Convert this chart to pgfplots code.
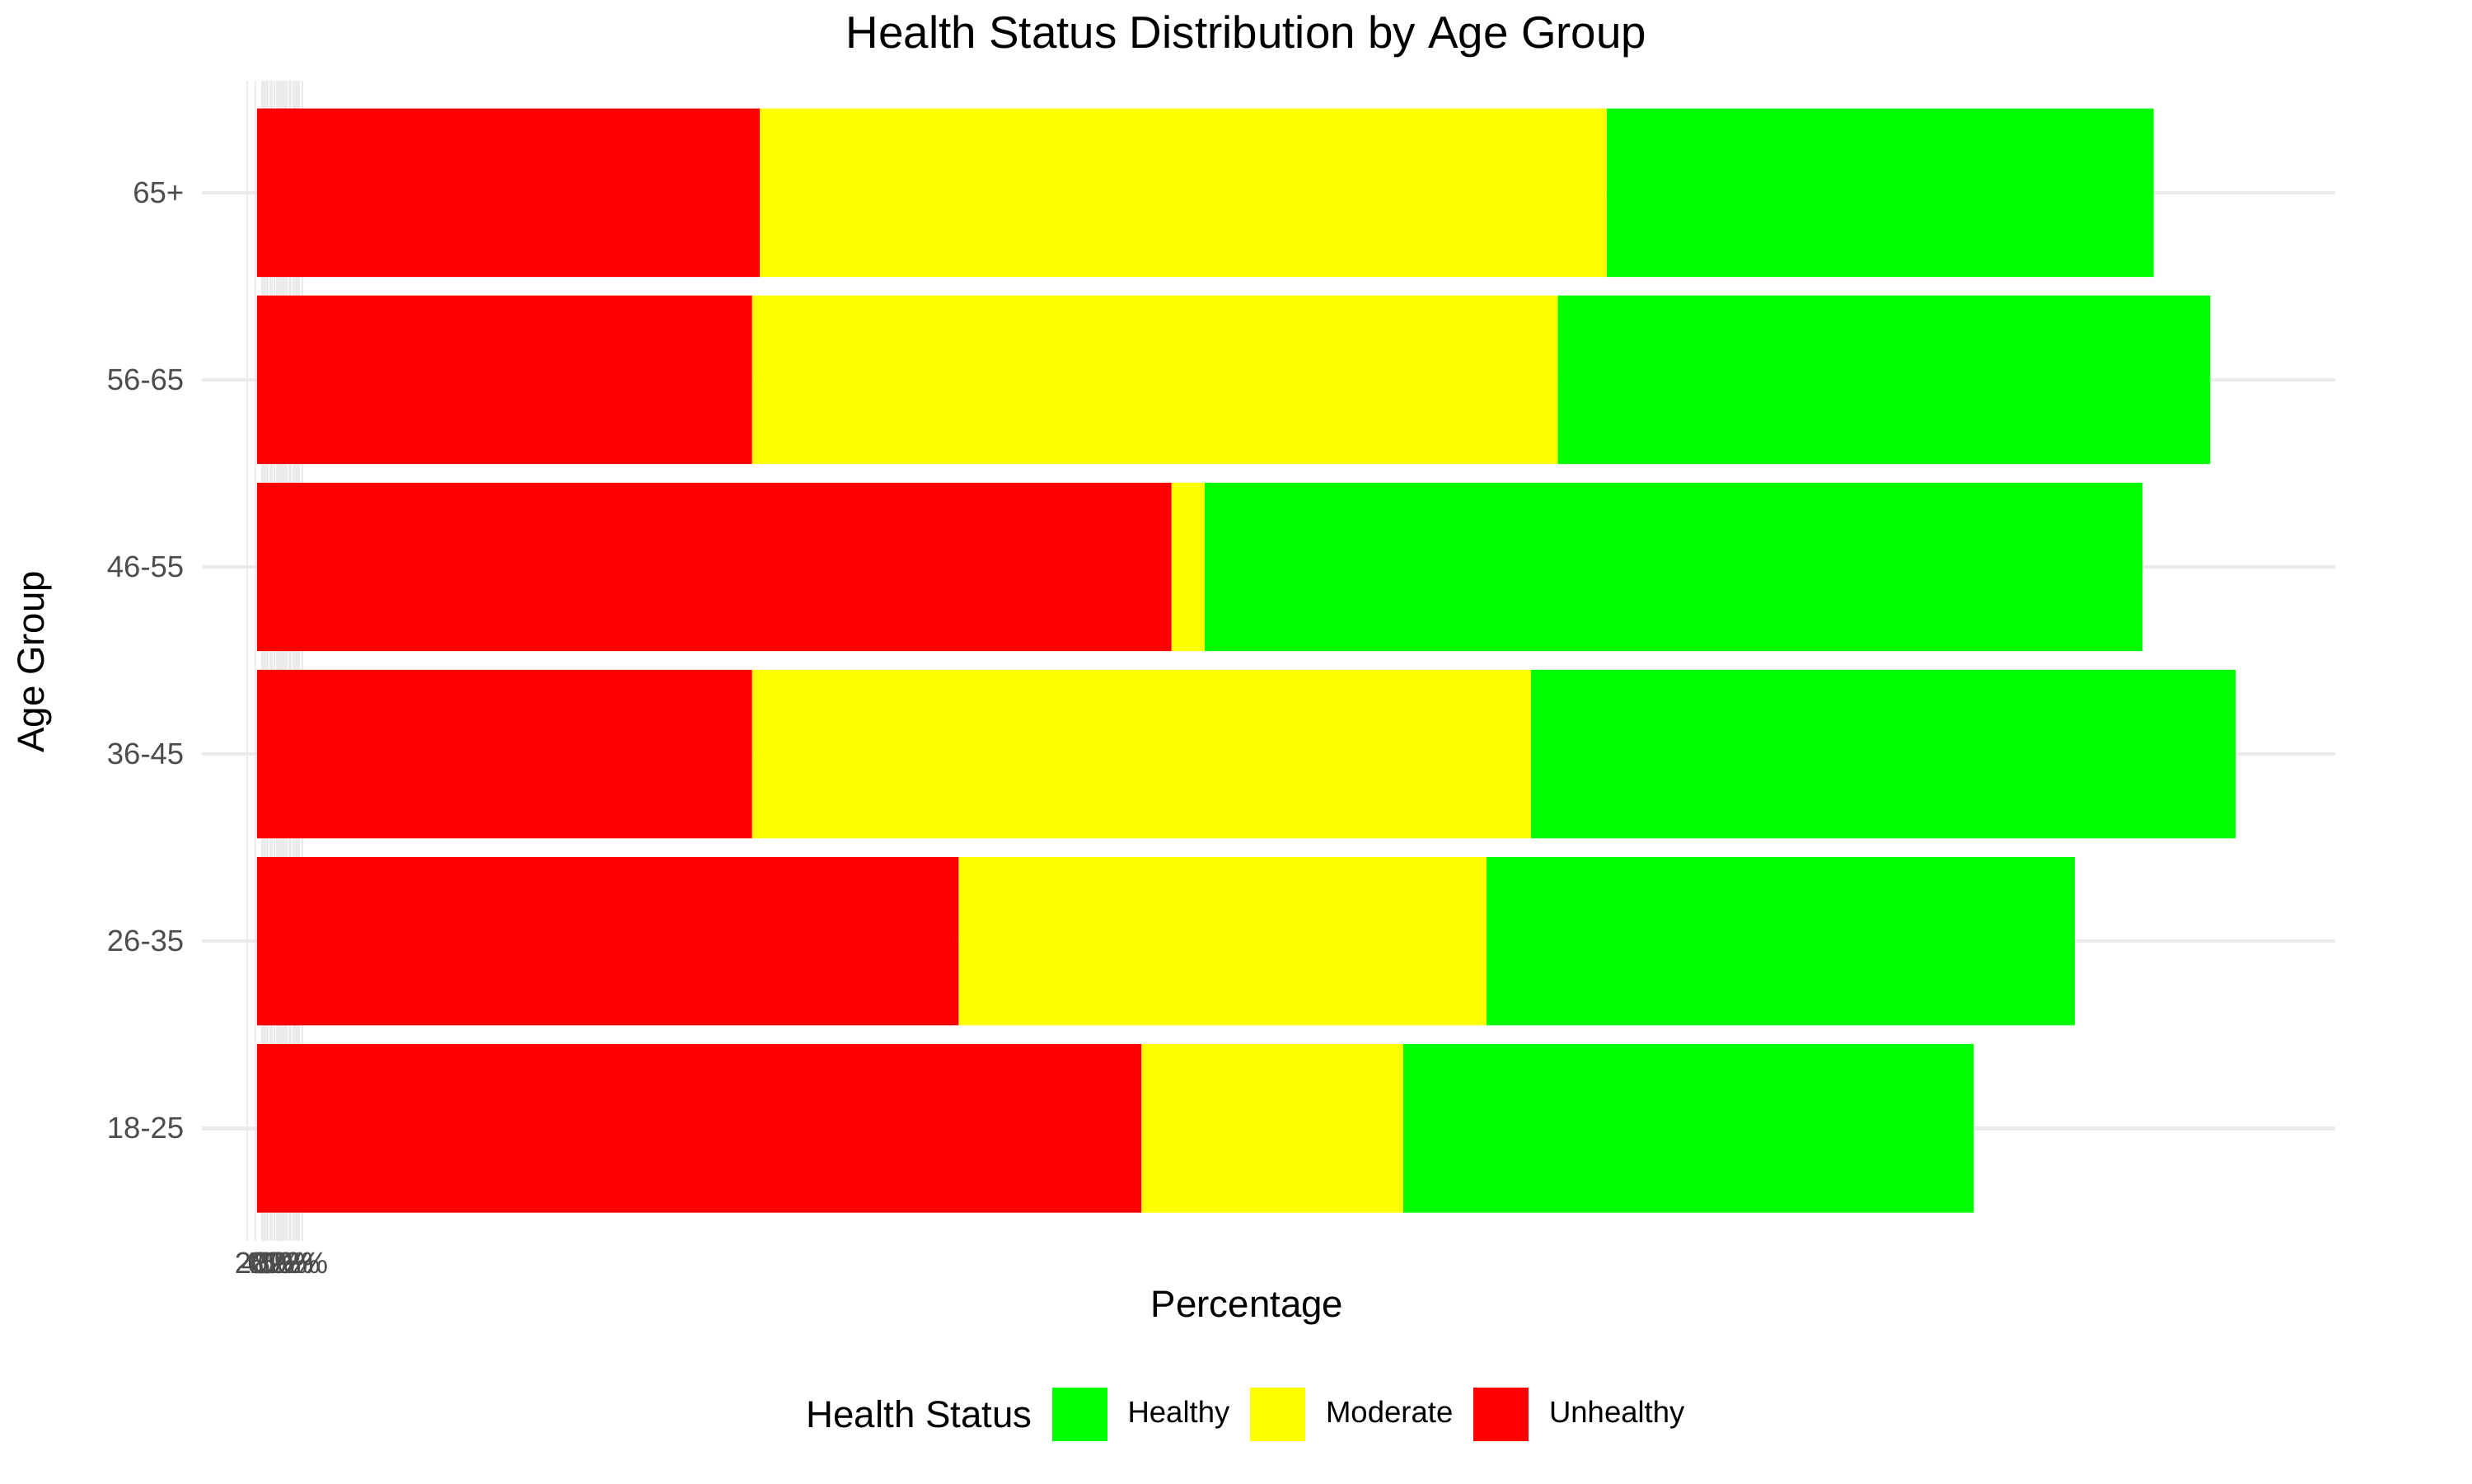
\documentclass[border=0pt]{standalone}
\usepackage{fontspec}
\setmainfont{Liberation Sans}
\usepackage{pgfplots}
\pgfplotsset{compat=1.18}
\definecolor{hgreen}{HTML}{00FF00}
\definecolor{hyellow}{HTML}{FFFF00}
\definecolor{hred}{HTML}{FF0000}
\definecolor{gridc}{HTML}{EBEBEB}
\definecolor{tickc}{HTML}{4D4D4D}
\begin{document}
\begin{tikzpicture}
\path[use as bounding box] (-59pt,-71pt) rectangle (663.7pt,362.7pt);
\begin{axis}[
  scale only axis,
  width=623.6pt, height=339.2pt,
  xmin=-35, xmax=1318,
  ymin=0.4, ymax=6.6,
  xbar stacked,
  bar width=0.9,
  axis line style={draw=none},
  major tick length=0pt, minor tick length=0pt,
  ytick={1,2,3,4,5,6},
  yticklabels={18-25,26-35,36-45,46-55,56-65,65+},
  xtick={5,9,13,17,21,26},
  xticklabels={20\%,40\%,60\%,80\%,50\%,22\%},
  minor xtick={-6,-1,3,7,11,15,19,23,24,29},
  ymajorgrids, xmajorgrids, xminorgrids,
  major grid style={gridc, line width=1.07pt},
  minor grid style={gridc, line width=0.53pt},
  tick label style={font=\fontsize{8.8}{10}\selectfont, text=tickc},
  yticklabel style={inner sep=0pt, xshift=-5pt},
  xticklabel style={inner sep=0pt, yshift=-3.3pt},
  legend columns=-1,
  legend style={at={(0.3983,-0.1495)}, anchor=west, draw=none, fill=none,
    inner sep=0pt, column sep=6.0pt,
    nodes={inner sep=0pt, font=\fontsize{8.8}{10}\selectfont}},
  legend image code/.code={\fill[#1, draw=none] (0pt,-7.85pt) rectangle (16.1pt,7.85pt);},
]
\addplot[fill=hred, draw=none, forget plot] coordinates {(561,1) (445,2) (314,3) (580,4) (314,5) (319,6)};
\addplot[fill=hyellow, draw=none, forget plot] coordinates {(166,1) (335,2) (494,3) (21,4) (511,5) (537,6)};
\addplot[fill=hgreen, draw=none, forget plot] coordinates {(362,1) (373,2) (447,3) (595,4) (414,5) (347,6)};
\addlegendimage{fill=hgreen, draw=none}
\addlegendentry{Healthy}
\addlegendimage{fill=hyellow, draw=none}
\addlegendentry{Moderate}
\addlegendimage{fill=hred, draw=none}
\addlegendentry{Unhealthy}
\end{axis}
\node[font=\fontsize{13.2}{15}\selectfont] at (305.4pt,352.1pt) {Health Status Distribution by Age Group};
\node[font=\fontsize{11}{13}\selectfont] at (305.6pt,-19.8pt) {Percentage};
\node[font=\fontsize{11}{13}\selectfont, rotate=90] at (-48.9pt,169.2pt) {Age Group};
\node[font=\fontsize{11}{13}\selectfont, anchor=west, inner sep=0pt] at (176.5pt,-50.7pt) {Health Status};
\end{tikzpicture}
\end{document}
